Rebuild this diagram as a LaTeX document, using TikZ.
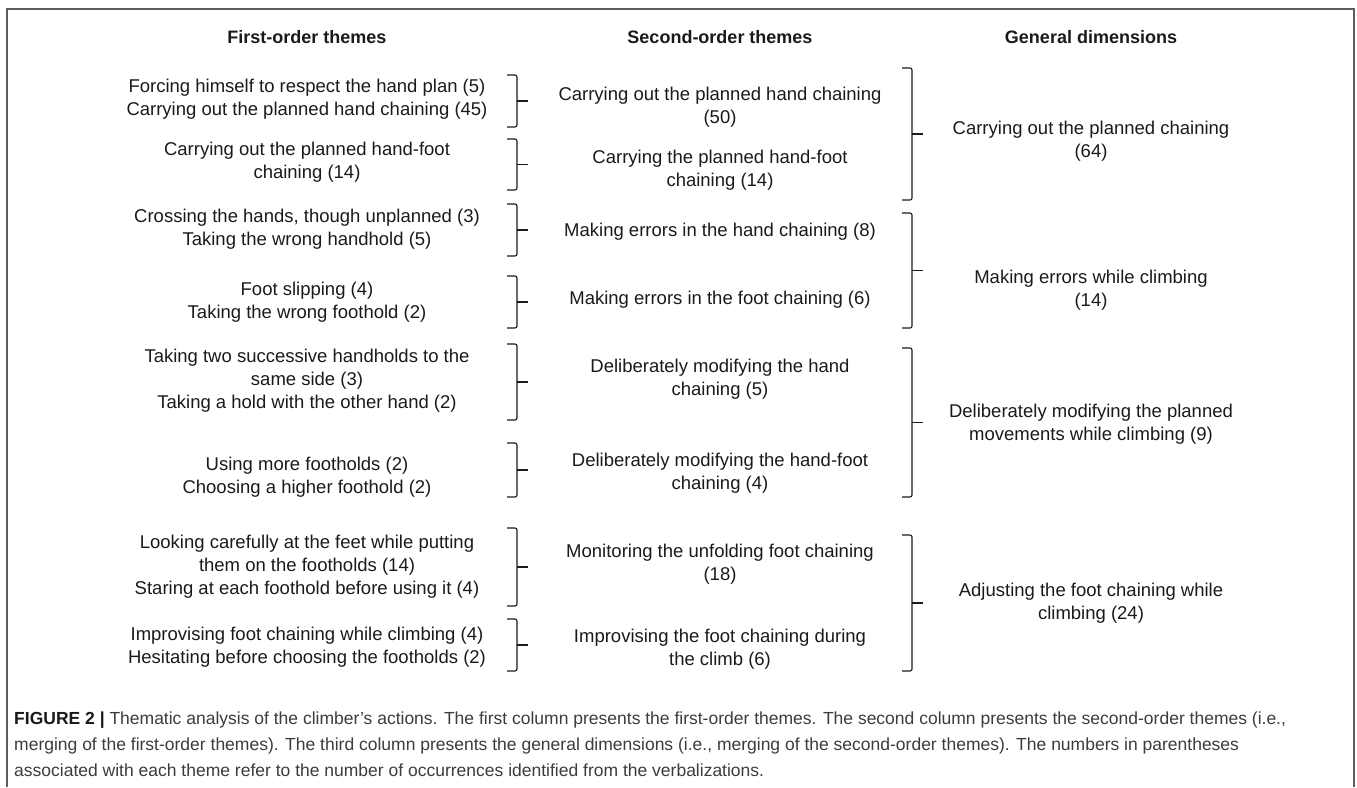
\documentclass[tikz,border=0pt]{standalone}
\usepackage{fontspec}
\setmainfont{Liberation Sans}
\usetikzlibrary{calc}
\definecolor{txt}{HTML}{1A1A1A}
\definecolor{captxt}{HTML}{3C3C3C}
\definecolor{frm}{HTML}{5C5C5C}
\tikzset{
  theme/.style={align=center, font=\fontsize{18.5}{23}\selectfont, text=txt, inner sep=0pt},
  head/.style={font=\fontsize{18}{22}\selectfont\bfseries, text=txt, inner sep=0pt},
  brline/.style={draw=txt, line width=1.1pt, rounded corners=2pt},
  frameline/.style={draw=frm, line width=1.6pt},
  captionstyle/.style={font=\fontsize{17.5}{26}\selectfont, text=captxt, inner sep=0pt, anchor=base west}
}
\newcommand\mybrace[4]{%
  \coordinate (#1t) at (#2,#3);
  \coordinate (#1b) at (#2,#4);
  \coordinate (#1m) at ($(#1t)!0.5!(#1b)$);
  \draw[brline] ($(#1t)+(-10,0)$) -- (#1t) -- (#1m) -- (#1b) -- ($(#1b)+(-10,0)$);
  \draw[brline] (#1m) -- ($(#1m)+(11,0)$);
}
\begin{document}
\begin{tikzpicture}[x=1pt,y=-1pt]
\useasboundingbox (0,0) rectangle (1357,787);
% frame
\coordinate (f1) at (7,787);
\coordinate (f2) at (7,9);
\coordinate (f3) at (1354,9);
\coordinate (f4) at (1354,787);
\draw[frameline] (f1) -- (f2) -- (f3) -- (f4);

% headers
\node[head] (h1) at (307,37) {First-order themes};
\node[head] (h2) at (720,37) {Second-order themes};
\node[head] (h3) at (1091,37) {General dimensions};

% first-order themes
\node[theme] (a1) at (307,99.5) {Forcing himself to respect the hand plan (5)\\Carrying out the planned hand chaining (45)};
\node[theme] (a2) at (307,162) {Carrying out the planned hand-foot\\chaining (14)};
\node[theme] (a3) at (307,229.5) {Crossing the hands, though unplanned (3)\\Taking the wrong handhold (5)};
\node[theme] (a4) at (307,302.5) {Foot slipping (4)\\Taking the wrong foothold (2)};
\node[theme] (a5) at (307,381) {Taking two successive handholds to the\\same side (3)\\Taking a hold with the other hand (2)};
\node[theme] (a6) at (307,477.5) {Using more footholds (2)\\Choosing a higher foothold (2)};
\node[theme] (a7) at (307,566.5) {Looking carefully at the feet while putting\\them on the footholds (14)\\Staring at each foothold before using it (4)};
\node[theme] (a8) at (307,647.5) {Improvising foot chaining while climbing (4)\\Hesitating before choosing the footholds (2)};

% second-order themes
\node[theme] (b1) at (720,107.5) {Carrying out the planned hand chaining\\(50)};
\node[theme] (b2) at (720,170.5) {Carrying the planned hand-foot\\chaining (14)};
\node[theme] (b3) at (720,232) {Making errors in the hand chaining (8)};
\node[theme] (b4) at (720,299.5) {Making errors in the foot chaining (6)};
\node[theme] (b5) at (720,379.5) {Deliberately modifying the hand\\chaining (5)};
\node[theme] (b6) at (720,473) {Deliberately modifying the hand-foot\\chaining (4)};
\node[theme] (b7) at (720,564) {Monitoring the unfolding foot chaining\\(18)};
\node[theme] (b8) at (720,649.5) {Improvising the foot chaining during\\the climb (6)};

% general dimensions
\node[theme] (c1) at (1091,141.5) {Carrying out the planned chaining\\(64)};
\node[theme] (c2) at (1091,290.5) {Making errors while climbing\\(14)};
\node[theme] (c3) at (1091,424) {Deliberately modifying the planned\\movements while climbing (9)};
\node[theme] (c4) at (1091,603.5) {Adjusting the foot chaining while\\climbing (24)};

% braces, first -> second
\mybrace{LA}{517}{75}{127}
\mybrace{LB}{517}{139}{190}
\mybrace{LC}{517}{204}{256}
\mybrace{LD}{517}{276}{328}
\mybrace{LE}{517}{344}{420}
\mybrace{LF}{517}{443}{497}
\mybrace{LG}{517}{528}{606}
\mybrace{LH}{517}{619}{671}
% braces, second -> general
\mybrace{RA}{912}{68}{200}
\mybrace{RB}{912}{213}{328}
\mybrace{RC}{912}{348}{497}
\mybrace{RD}{912}{535}{671}

% caption
\node[captionstyle] (cap1) at (14,724) {{\bfseries\color{txt}FIGURE 2 |} Thematic analysis of the climber's actions. The first column presents the first-order themes. The second column presents the second-order themes (i.e.,};
\node[captionstyle] (cap2) at (14,750) {merging of the first-order themes). The third column presents the general dimensions (i.e., merging of the second-order themes). The numbers in parentheses};
\node[captionstyle] (cap3) at (14,776) {associated with each theme refer to the number of occurrences identified from the verbalizations.};
\end{tikzpicture}
\end{document}
